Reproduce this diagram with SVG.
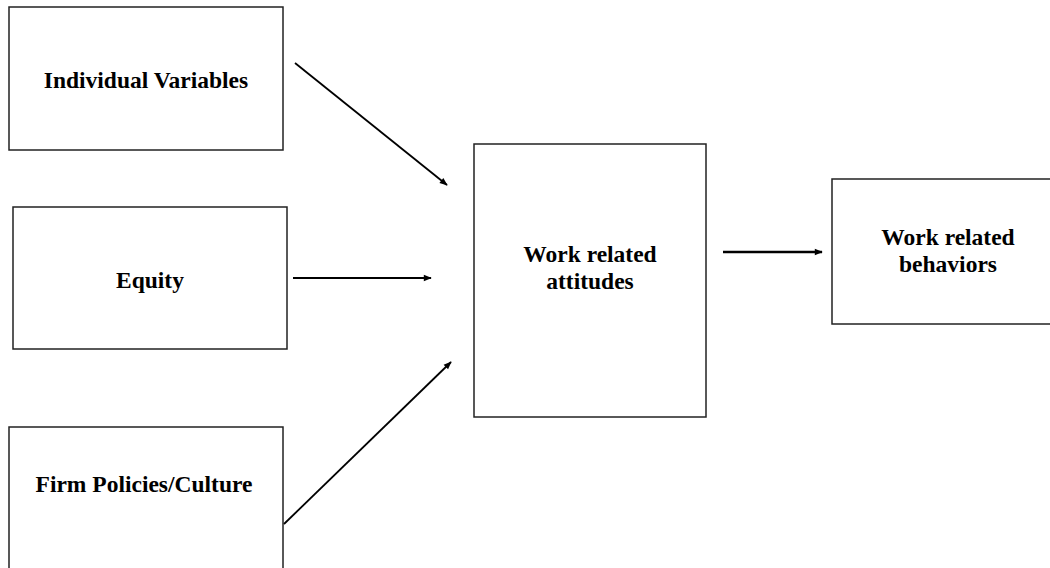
<svg xmlns="http://www.w3.org/2000/svg" width="1050" height="568" viewBox="0 0 1050 568">
<style>
.box{fill:#fff;stroke:#222;stroke-width:1.5}
.lbl{font-family:"Liberation Serif","Times New Roman",serif;font-weight:bold;font-size:23.5px;fill:#000;text-anchor:middle}
.conn{stroke:#000;stroke-width:1.8;fill:none;marker-end:url(#ah)}
</style>
<defs>
<marker id="ah" viewBox="0 0 10 10" refX="9" refY="5" markerWidth="9" markerHeight="8" orient="auto" markerUnits="userSpaceOnUse">
<path d="M0,1 L10,5 L0,9 Z" fill="#000"/>
</marker>
</defs>
<rect width="1050" height="568" fill="#fff"/>
<g id="node-individual">
<rect class="box" x="9" y="7" width="274" height="143"/>
<text class="lbl" x="146" y="88">Individual Variables</text>
</g>
<g id="node-equity">
<rect class="box" x="13" y="207" width="274" height="142"/>
<text class="lbl" x="150" y="288">Equity</text>
</g>
<g id="node-firm">
<rect class="box" x="9" y="427" width="274" height="160"/>
<text class="lbl" x="144" y="492">Firm Policies/Culture</text>
</g>
<g id="node-attitudes">
<rect class="box" x="474" y="144" width="232" height="273"/>
<text class="lbl" x="590" y="262">Work related</text>
<text class="lbl" x="590" y="289">attitudes</text>
</g>
<g id="node-behaviors">
<rect class="box" x="832" y="179" width="230" height="145"/>
<text class="lbl" x="948" y="245">Work related</text>
<text class="lbl" x="948" y="272">behaviors</text>
</g>
<g id="connectors">
<line class="conn" x1="295" y1="63" x2="447" y2="185"/>
<line class="conn" x1="293" y1="278" x2="431" y2="278"/>
<line class="conn" x1="284" y1="524" x2="451" y2="362"/>
<line class="conn" x1="723" y1="252" x2="822" y2="252" style="stroke-width:2.4"/>
</g>
</svg>
